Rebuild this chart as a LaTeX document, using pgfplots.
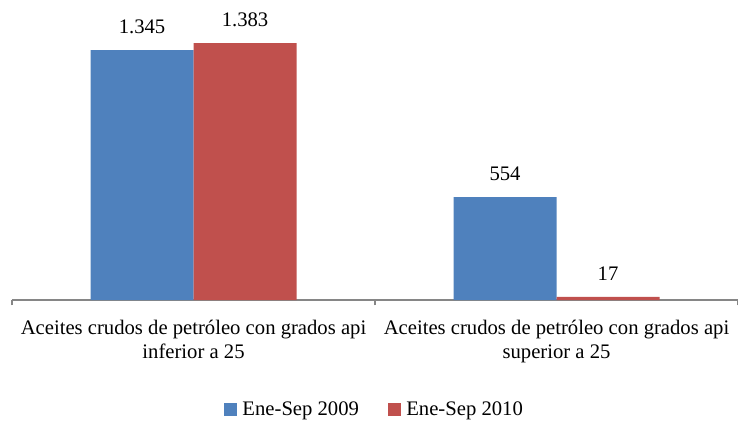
\documentclass[border=0pt]{standalone}
\usepackage{fontspec}
\setmainfont{Liberation Serif}
\usepackage{pgfplots}
\pgfplotsset{compat=1.18}
\definecolor{cblue}{HTML}{4F81BD}
\definecolor{cred}{HTML}{C0504D}
\definecolor{axgray}{HTML}{868686}
\begin{document}
\fontsize{15.5}{18}\selectfont
\begin{tikzpicture}
\begin{axis}[
  scale only axis,
  width=544.5pt, height=209pt,
  xmin=-0.5, xmax=1.5, ymin=0, ymax=1500,
  ybar=0pt, bar width=77.25pt,
  axis x line*=bottom, axis y line=none,
  x axis line style={draw=axgray, line width=1pt, -},
  xtick={0,1}, major tick length=0pt,
  xticklabels={Aceites crudos de petróleo con grados api\\inferior a 25,
               Aceites crudos de petróleo con grados api\\superior a 25},
  xticklabel style={align=center, font=\fontsize{15.5}{18}\selectfont, yshift=-9.5pt},
  extra x ticks={-0.5,0.5,1.5}, extra x tick labels={},
  extra x tick style={tick align=outside, major tick length=4pt, tick style={draw=axgray, line width=0.8pt}},
  ytick=\empty,
  /pgf/number format/assume math mode=true,
  /pgf/number format/.cd, 1000 sep={.}, /pgfplots/.cd,
  nodes near coords,
  nodes near coords style={font=\fontsize{15.5}{17}\selectfont, text=black, yshift=7pt},
  legend style={at={(0.5,-0.3947)}, anchor=center, draw=none, legend columns=2,
    font=\fontsize{15.5}{17}\selectfont,
    /tikz/every even column/.append style={column sep=20pt},
    /tikz/every odd column/.append style={column sep=2pt}},
  legend image code/.code={\fill[#1] (0pt,-4.5pt) rectangle (9.5pt,5pt);},
  clip=false,
]
\addplot[fill=cblue, draw=none] coordinates {(0,1345) (1,554)};
\addplot[fill=cred, draw=none] coordinates {(0,1383) (1,17)};
\legend{Ene-Sep 2009, Ene-Sep 2010}
\coordinate (bl) at ([xshift=-9pt,yshift=-90.75pt]rel axis cs:0,0);
\coordinate (tr) at ([yshift=225pt]rel axis cs:1,0);
\end{axis}
\pgfresetboundingbox
\useasboundingbox (bl) rectangle (tr);
\end{tikzpicture}
\end{document}
